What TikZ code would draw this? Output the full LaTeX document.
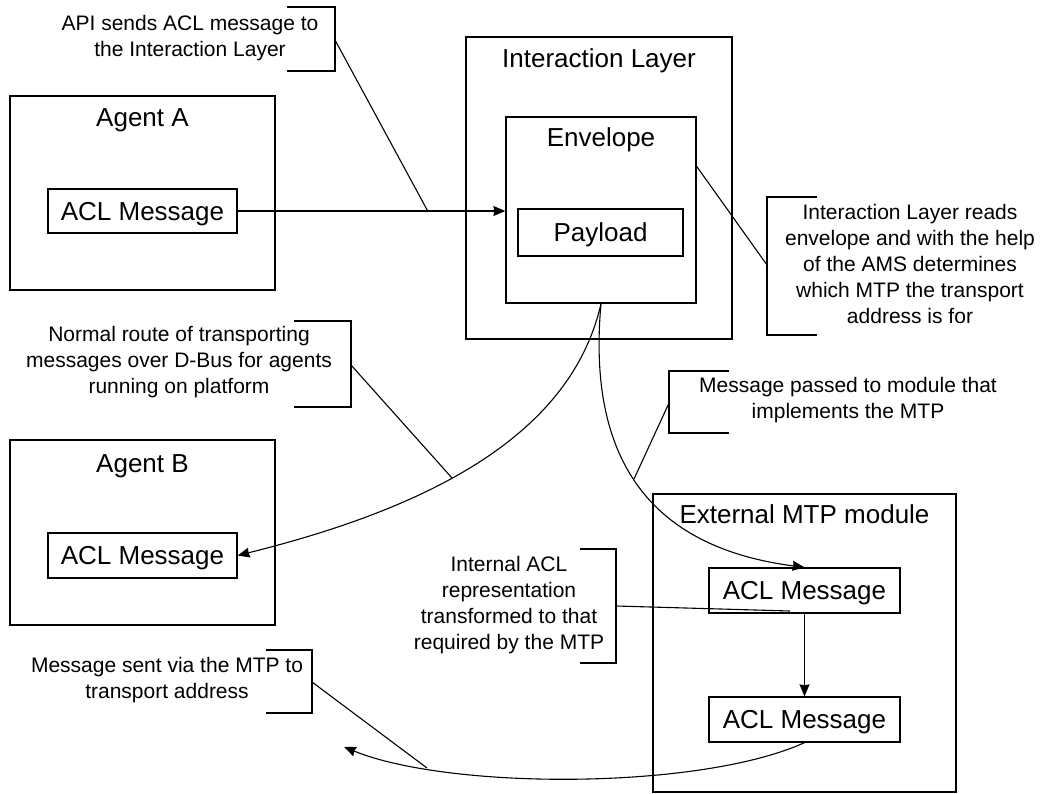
\documentclass[tikz,border=0pt]{standalone}
\usepackage{fontspec}
\setmainfont{Liberation Sans}
\usepackage{tikz}
\usetikzlibrary{arrows.meta,calc,positioning}

\begin{document}
\begin{tikzpicture}[x=1pt,y=-1pt,>={Stealth[length=12pt,width=10pt,inset=1pt]},
  box/.style={draw,line width=1.3pt,inner sep=0pt},
  title/.style={inner sep=0pt,text height=18.6pt,text depth=0pt,font=\fontsize{26}{30}\selectfont},
  msg/.style={box,minimum width=190pt,minimum height=45pt,text height=18.6pt,text depth=0pt,font=\fontsize{26}{30}\selectfont},
  note/.style={align=center,inner sep=0pt,font=\fontsize{21}{26}\selectfont},
  lead/.style={line width=1.1pt}]
  \useasboundingbox (0,0) rectangle (1041,794);

  \node (agentA) [box,minimum width=265pt,minimum height=194pt] at (142.5,193) {};
  \node (agentAt) [title,below=12pt of agentA.north] {Agent A};
  \node (msgA) [msg,minimum width=189pt,minimum height=44pt] at (142.5,211) {ACL Message};

  \node (agentB) [box,minimum width=265pt,minimum height=185pt] at (142.5,532.5) {};
  \node (agentBt) [title,below=14pt of agentB.north] {Agent B};
  \node (msgB) [msg,minimum width=189pt] at (142.5,555.5) {ACL Message};

  \node (inter) [box,minimum width=266pt,minimum height=302pt] at (599,188) {};
  \node (intert) [title,below=12pt of inter.north] {Interaction Layer};
  \node (env) [box,minimum width=190pt,minimum height=186pt] at (601,210) {};
  \node (envt) [title,below=11pt of env.north] {Envelope};
  \node (payload) [msg,minimum width=165pt,minimum height=47pt] at (600.5,232.5) {Payload};

  \node (mtp) [box,minimum width=303pt,minimum height=298pt] at (804.5,643) {};
  \node (mtpt) [title,below=11pt of mtp.north] {External MTP module};
  \node (msgC) [msg,minimum width=191pt] at (804.5,590.5) {ACL Message};
  \node (msgD) [msg,minimum width=191pt] at (804.5,719.5) {ACL Message};

  \node (apiN) [note] at (190,38.5) {API sends ACL message to\\the Interaction Layer};
  \node (readN) [note] at (910,264) {Interaction Layer reads\\envelope and with the help\\of the AMS determines\\which MTP the transport\\address is for};
  \node (routeN) [note] at (179,362) {Normal route of transporting\\messages over D-Bus for agents\\running on platform};
  \node (passN) [note] at (848,400) {Message passed to module that\\implements the MTP};
  \node (intN) [note] at (509,605) {Internal ACL\\representation\\transformed to that\\required by the MTP};
  \node (sentN) [note] at (167,680) {Message sent via the MTP to\\transport address};

  \draw[lead] (287,7) -| (335,71) -- (287,71);
  \draw[lead] (817,197) -| (767,335) -- (817,335);
  \draw[lead] (294,321) -| (351,407) -- (294,407);
  \draw[lead] (729,371) -| (669,433) -- (729,433);
  \draw[lead] (580,549) -| (616,663) -- (580,663);
  \draw[lead] (266,650) -| (312,713) -- (266,713);

  \coordinate (apiR) at (335,40);
  \coordinate (readL) at (767,265);
  \coordinate (routeR) at (351,365);
  \coordinate (passL) at (669,403);
  \coordinate (intR) at (616,606);
  \coordinate (sentR) at (312,682);
  \coordinate (envR) at ($(env.north east)+(0,50)$);
  \coordinate (routeP) at (452,478);
  \coordinate (passP) at (634,479);
  \coordinate (intP) at (790,611);
  \coordinate (sentP) at (427,768);
  \coordinate (out) at (344,747);

  \draw[->,lead] (msgA.east) -- coordinate[pos=0.71] (apiP) (msgA.east -| env.west);
  \draw[->,lead] (env.south) .. controls (570,440) and (420,510) .. (msgB.east);
  \draw[->,lead] (env.south) .. controls (585,480) and (670,550) .. (msgC.north);
  \draw[->,lead] (msgC) -- (msgD);
  \draw[->,lead] (msgD.south) .. controls (700,790) and (450,790) .. (out);

  \draw[lead] (apiR) -- (apiP);
  \draw[lead] (envR) -- (readL);
  \draw[lead] (routeR) -- (routeP);
  \draw[lead] (passL) -- (passP);
  \draw[lead] (intR) -- (intP);
  \draw[lead] (sentR) -- (sentP);
\end{tikzpicture}
\end{document}
